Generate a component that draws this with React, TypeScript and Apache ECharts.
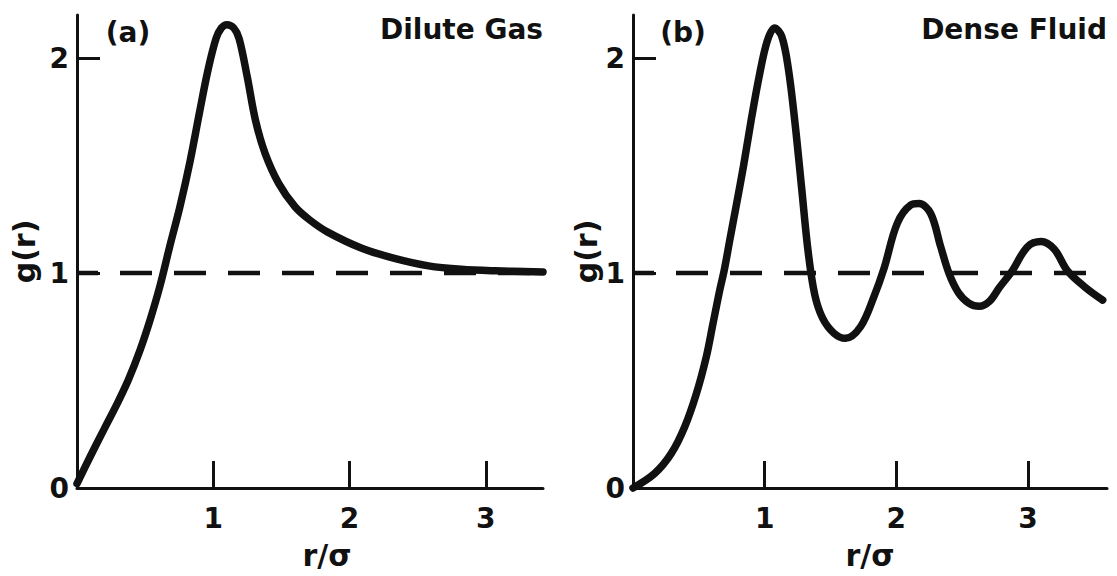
import React, { useEffect, useRef } from "react";
import * as echarts from "echarts";

// Panel (a): dilute gas radial distribution function
const rDilute = [0, 0.1, 0.2, 0.293, 0.378, 0.463, 0.536, 0.609, 0.683, 0.756, 0.83, 0.9, 0.96, 1.02, 1.06, 1.1, 1.15, 1.19, 1.25, 1.31, 1.38, 1.48, 1.6, 1.707, 1.84, 2.09, 2.33, 2.58, 2.82, 3.07, 3.42];
const gDilute = [0.02, 0.15, 0.275, 0.39, 0.505, 0.642, 0.781, 0.94, 1.13, 1.31, 1.52, 1.75, 1.94, 2.09, 2.14, 2.155, 2.14, 2.09, 1.91, 1.71, 1.557, 1.417, 1.308, 1.247, 1.19, 1.115, 1.068, 1.033, 1.017, 1.01, 1.005];

// Panel (b): dense fluid radial distribution function
const rDense = [0, 0.165, 0.291, 0.393, 0.482, 0.557, 0.608, 0.659, 0.692, 0.735, 0.78, 0.84, 0.9, 0.96, 1.02, 1.075, 1.13, 1.18, 1.23, 1.28, 1.33, 1.38, 1.44, 1.526, 1.614, 1.728, 1.83, 1.906, 2.007, 2.109, 2.172, 2.26, 2.337, 2.4, 2.47, 2.55, 2.63, 2.71, 2.78, 2.88, 2.996, 3.1, 3.2, 3.3, 3.43, 3.567];
const gDense = [0, 0.068, 0.161, 0.285, 0.44, 0.611, 0.766, 0.921, 1.01, 1.153, 1.3, 1.5, 1.72, 1.92, 2.08, 2.14, 2.1, 1.95, 1.7, 1.4, 1.1, 0.9, 0.79, 0.72, 0.696, 0.75, 0.89, 1.02, 1.231, 1.316, 1.323, 1.278, 1.122, 0.998, 0.91, 0.86, 0.845, 0.87, 0.93, 1.01, 1.122, 1.146, 1.11, 1.01, 0.936, 0.874];

const panelTags = ["(a)", "(b)"];
const panelTitles = ["Dilute Gas", "Dense Fluid"];
const xMax = [3.42, 3.6];
const yMax = 2.2;
const idealGas = 1;

const INK = "#111";
const FONT = '"DejaVu Sans", "Noto Sans", sans-serif';

function pairs(xs: number[], ys: number[]) {
  return xs.map((x, i) => [x, ys[i]]);
}

export default function App() {
  const ref = useRef<HTMLDivElement>(null);

  useEffect(() => {
    if (!ref.current) return;
    const chart = echarts.init(ref.current, null, { renderer: "svg" });

    const grids = [
      { left: 77, right: 574, top: 15, bottom: 88 },
      { left: 633, right: 10, top: 15, bottom: 88 },
    ];

    const xAxes = [0, 1].map((i) => ({
      type: "value",
      gridIndex: i,
      min: 0,
      max: xMax[i],
      interval: 1,
      name: "r/σ",
      nameLocation: "middle",
      nameGap: 52,
      nameTextStyle: {
        color: INK,
        fontFamily: FONT,
        fontWeight: "bold",
        fontSize: 30,
        padding: i === 0 ? [0, 0, 0, 34] : 0,
      },
      axisLine: { show: true, onZero: false, lineStyle: { color: INK, width: 3 } },
      axisTick: { show: true, inside: true, length: 27, lineStyle: { color: INK, width: 3 } },
      axisLabel: {
        color: INK,
        fontFamily: FONT,
        fontWeight: "bold",
        fontSize: 28,
        margin: 16,
        showMaxLabel: false,
        formatter: (v: number) => (v === 0 ? "" : String(v)),
      },
      splitLine: { show: false },
    }));

    const yAxes = [0, 1].map((i) => ({
      type: "value",
      gridIndex: i,
      min: 0,
      max: yMax,
      interval: 1,
      name: "g(r)",
      nameLocation: "middle",
      nameRotate: 90,
      nameGap: i === 0 ? 38 : 26,
      nameTextStyle: { color: INK, fontFamily: FONT, fontWeight: "bold", fontSize: 30 },
      axisLine: { show: true, onZero: false, lineStyle: { color: INK, width: 3 } },
      axisTick: { show: true, inside: true, length: 23, lineStyle: { color: INK, width: 3 } },
      axisLabel: {
        color: INK,
        fontFamily: FONT,
        fontWeight: "bold",
        fontSize: 28,
        margin: 8,
        showMaxLabel: false,
      },
      splitLine: { show: false },
    }));

    const refLines = [0, 1].map((i) => ({
      type: "line",
      xAxisIndex: i,
      yAxisIndex: i,
      data: [
        [0, idealGas],
        [xMax[i], idealGas],
      ],
      symbol: "none",
      silent: true,
      clip: false,
      lineStyle: { color: INK, width: 4.5, type: [32, 22], dashOffset: 11 },
      z: 2,
    }));

    const curves = [pairs(rDilute, gDilute), pairs(rDense, gDense)].map((d, i) => ({
      type: "line",
      xAxisIndex: i,
      yAxisIndex: i,
      data: d,
      symbol: "none",
      smooth: 0.35,
      clip: false,
      lineStyle: { color: INK, width: 7.5, cap: "round", join: "round" },
      z: 3,
    }));

    const texts: any[] = [];
    const tagX = [128, 683];
    const titleRight = [543, 1107];
    for (let i = 0; i < 2; i++) {
      texts.push({
        type: "text",
        x: tagX[i],
        y: 32,
        style: {
          text: panelTags[i],
          font: `bold 28px ${FONT}`,
          fill: INK,
          align: "center",
          verticalAlign: "middle",
        },
      });
      texts.push({
        type: "text",
        x: titleRight[i],
        y: 29,
        style: {
          text: panelTitles[i],
          font: `bold 28px ${FONT}`,
          fill: INK,
          align: "right",
          verticalAlign: "middle",
        },
      });
    }

    chart.setOption({
      animation: false,
      backgroundColor: "#fff",
      grid: grids,
      xAxis: xAxes,
      yAxis: yAxes,
      series: [...refLines, ...curves],
      graphic: texts,
    });

    return () => chart.dispose();
  }, []);

  return (
    <div
      ref={ref}
      style={{ position: "fixed", left: 0, top: 0, width: 1117, height: 576, background: "#fff" }}
    />
  );
}
